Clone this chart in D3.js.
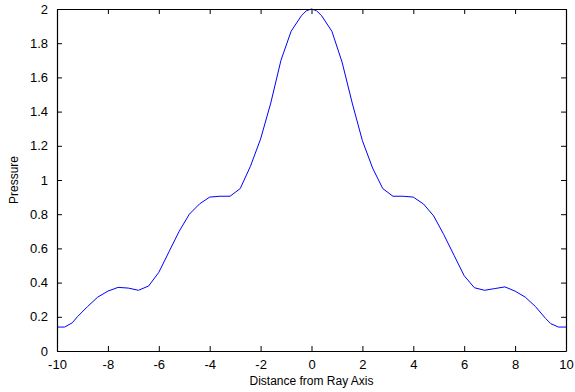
<!DOCTYPE html>
<html>
<head>
<meta charset="utf-8">
<script src="https://cdn.jsdelivr.net/npm/d3@7"></script>
<style>
  html, body { margin: 0; padding: 0; background: #fff; overflow: hidden; }
  text { font-family: "Liberation Sans", Arial, sans-serif; }
</style>
</head>
<body>
<svg width="575" height="392"></svg>
<script>
// data
var distance = [-10, -9.7, -9.4, -9.2, -8.8, -8.4, -8, -7.6, -7.2, -6.8, -6.4, -6, -5.6, -5.2, -4.8, -4.4, -4, -3.6, -3.2, -2.8, -2.4, -2, -1.6, -1.2, -0.8, -0.4, -0.2, 0,
  0.2, 0.4, 0.8, 1.2, 1.6, 2, 2.4, 2.8, 3.2, 3.6, 4, 4.4, 4.8, 5.2, 5.6, 6, 6.4, 6.8, 7.2, 7.6, 8, 8.4, 8.8, 9.2, 9.4, 9.7, 10]
var pressure = [0.14, 0.14, 0.165, 0.20, 0.26, 0.315, 0.35, 0.372, 0.368, 0.355, 0.38, 0.46, 0.58, 0.70, 0.80, 0.86, 0.90, 0.905, 0.905, 0.95, 1.08, 1.24, 1.45, 1.70, 1.87, 1.96, 1.99, 2.0,
  1.99, 1.96, 1.87, 1.69, 1.45, 1.23, 1.07, 0.95, 0.905, 0.905, 0.90, 0.86, 0.79, 0.68, 0.56, 0.44, 0.37, 0.355, 0.365, 0.375, 0.35, 0.315, 0.26, 0.19, 0.16, 0.14, 0.14]
var xTicks = [-10, -8, -6, -4, -2, 0, 2, 4, 6, 8, 10]
var yTicks = [0, 0.2, 0.4, 0.6, 0.8, 1, 1.2, 1.4, 1.6, 1.8, 2]

var svg = d3.select("svg")
var plotLeft = 57, plotRight = 566, plotTop = 9, plotBottom = 351
var tick = 5

var x = d3.scaleLinear().domain([-10, 10]).range([plotLeft, plotRight])
var y = d3.scaleLinear().domain([0, 2]).range([plotBottom, plotTop])

//the curve
var line = d3.line()
    .x(function (d, i) { return x(distance[i]) })
    .y(function (d) { return y(d) })
svg.append("path")
    .datum(pressure)
    .attr("d", line)
    .attr("fill", "none")
    .attr("stroke", "#0000ff")
    .attr("stroke-width", 1)

//axes with inward ticks on all four sides
var fmt = function (d) { return String(+d.toFixed(1)) }
svg.append("g").attr("transform", "translate(0," + plotBottom + ")")
    .call(d3.axisBottom(x).tickValues(xTicks).tickSizeInner(-tick).tickSizeOuter(0).tickPadding(9).tickFormat(fmt))
svg.append("g").attr("transform", "translate(0," + plotTop + ")")
    .call(d3.axisTop(x).tickValues(xTicks).tickSizeInner(-tick).tickSizeOuter(0).tickFormat(""))
svg.append("g").attr("transform", "translate(" + plotLeft + ",0)")
    .call(d3.axisLeft(y).tickValues(yTicks).tickSizeInner(-tick).tickSizeOuter(0).tickPadding(9).tickFormat(fmt))
svg.append("g").attr("transform", "translate(" + plotRight + ",0)")
    .call(d3.axisRight(y).tickValues(yTicks).tickSizeInner(-tick).tickSizeOuter(0).tickFormat(""))

svg.selectAll(".domain").attr("stroke", "#000").attr("stroke-width", 1.2)
svg.selectAll(".tick line").attr("stroke", "#000")
svg.selectAll(".tick text").attr("fill", "#000").style("font-size", "13px").style("font-family", "Liberation Sans, Arial, sans-serif")

//axis labels
svg.append("text")
    .attr("x", (plotLeft + plotRight) / 2).attr("y", 385)
    .attr("text-anchor", "middle")
    .style("font-size", "12px")
    .text("Distance from Ray Axis")
svg.append("text")
    .attr("transform", "translate(18," + (plotTop + plotBottom) / 2 + ") rotate(-90)")
    .attr("text-anchor", "middle")
    .style("font-size", "12px")
    .text("Pressure")
</script>
</body>
</html>
